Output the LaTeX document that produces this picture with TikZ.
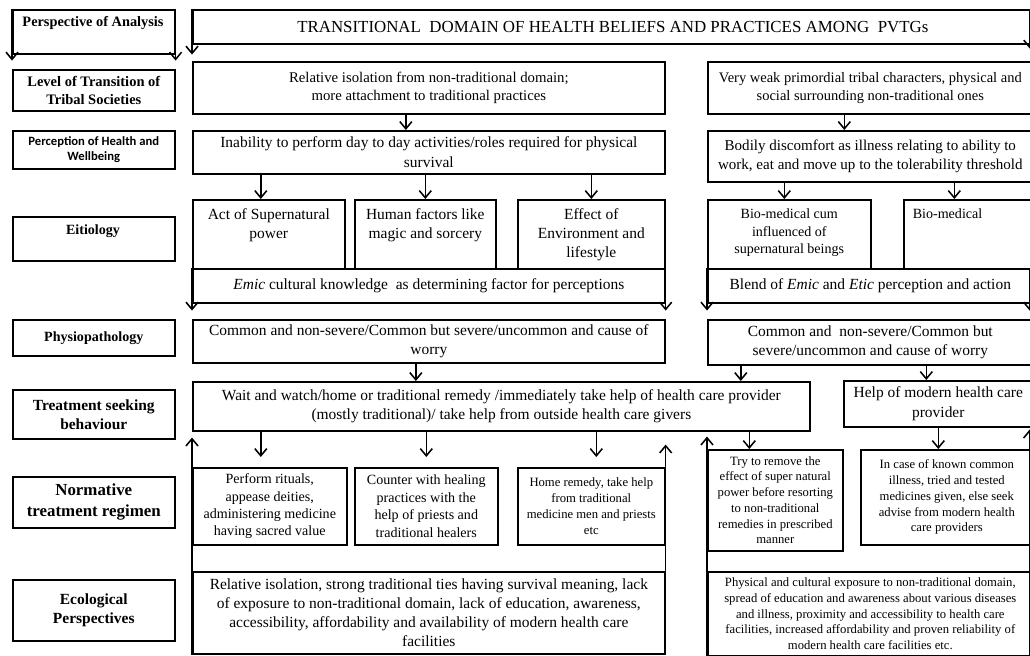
\documentclass[tikz,border=0pt]{standalone}
\usepackage{fontspec}
\setmainfont{Liberation Serif}
\newfontfamily\carlito{Carlito}
\usetikzlibrary{arrows.meta}

\begin{document}
\begin{tikzpicture}[x=0.025cm, y=-0.025cm, line width=1.1pt,
    >={Straight Barb[length=1.8mm, width=3mm]},
    cx/.style={draw, rectangle, anchor=north west, align=center, inner sep=1pt,
      font=\fontsize{11}{13.8}\selectfont},
    pq/.style={cx, font=\fontsize{9}{11.2}\selectfont},
    rot/.style={cx, minimum width=4.05cm, font=\bfseries\fontsize{10}{12.8}\selectfont},
    txt/.style={inner sep=0pt, align=center, font=\fontsize{11}{13.5}\selectfont}]
    \clip (0,0) rectangle (1030,656);

    % Coluna da esquerda
    \node[rot, minimum height=1.1cm] (persp) at (12,9) {};
    \node[txt, anchor=base, font=\bfseries\fontsize{10.2}{12}\selectfont] (perspt) at (93,27) {Perspective of Analysis};
    \node[rot, minimum height=1.025cm, font=\bfseries\fontsize{10.3}{12.8}\selectfont] (level) at (12,69) {Level of Transition of\\Tribal Societies};
    \node[rot, minimum height=0.95cm, font=\carlito\bfseries\fontsize{9}{10.5}\selectfont] (percep) at (12,130) {Perception of Health and\\Wellbeing};
    \node[rot, minimum height=1.1cm] (etio) at (12,216) {};
    \node[txt, anchor=base, font=\bfseries\fontsize{10}{12}\selectfont] (etiot) at (93,234) {Eitiology};
    \node[rot, minimum height=0.9cm] (physio) at (12,319) {Physiopathology};
    \node[rot, minimum height=1.225cm, font=\bfseries\fontsize{11}{13.5}\selectfont] (treat) at (12,389) {Treatment seeking\\behaviour};
    \node[rot, minimum height=1.275cm, font=\bfseries\fontsize{12}{15}\selectfont] (norm) at (12,476) {Normative\\treatment regimen};
    \node[rot, minimum height=1.525cm, font=\bfseries\fontsize{11}{13.5}\selectfont] (eco) at (12,579) {Ecological\\Perspectives};

    % Titulo
    \node[cx, minimum width=21cm, minimum height=0.85cm, font=\fontsize{12}{14}\selectfont] (title) at (192,9) {TRANSITIONAL\ \ DOMAIN OF HEALTH BELIEFS AND PRACTICES AMONG\ \ PVTGs};

    % Nivel de transicao e percepcao
    \node[cx, minimum width=11.8cm, minimum height=1.3cm, font=\fontsize{10.5}{13}\selectfont] (levL) at (192,61) {Relative isolation from non-traditional domain;\\more attachment to traditional practices};
    \node[cx, minimum width=8.125cm, minimum height=1.3cm, font=\fontsize{10.3}{13}\selectfont] (levR) at (707,61) {Very weak primordial tribal characters, physical and\\social surrounding non-traditional ones};
    \node[cx, minimum width=11.8cm, minimum height=1.075cm] (perL) at (192,130) {Inability to perform day to day activities/roles required for physical\\survival};
    \node[cx, minimum width=8.125cm, minimum height=1.275cm, font=\fontsize{10.7}{13.5}\selectfont] (perR) at (707,130) {Bodily discomfort as illness relating to ability to\\work, eat and move up to the tolerability threshold};

    % Etiologia
    \node[cx, minimum width=3.8cm, minimum height=1.725cm] (act) at (192,199) {};
    \node[cx, minimum width=3.525cm, minimum height=1.725cm] (human) at (354,199) {};
    \node[cx, minimum width=3.675cm, minimum height=1.725cm] (env) at (517,199) {};
    \node[cx, minimum width=4.075cm, minimum height=1.725cm] (biocum) at (707,199) {};
    \node[cx, minimum width=3.225cm, minimum height=1.725cm] (bio) at (903,199) {};
    \node[txt, anchor=north] (actt) at ([yshift=-0.225cm]act.north) {Act of Supernatural\\power};
    \node[txt, anchor=north] (humant) at ([yshift=-0.225cm]human.north) {Human factors like\\magic and sorcery};
    \node[txt, anchor=north] (envt) at ([yshift=-0.225cm]env.north) {Effect of\\Environment and\\lifestyle};
    \node[txt, anchor=north, font=\fontsize{10}{12.5}\selectfont] (biocumt) at ([yshift=-0.225cm]biocum.north) {Bio-medical cum\\influenced of\\supernatural beings};
    \node[txt, anchor=north west, font=\fontsize{10}{12.5}\selectfont] (biot) at ([xshift=0.225cm, yshift=-0.225cm]bio.north west) {Bio-medical};
    \node[cx, minimum width=11.8cm, minimum height=0.85cm] (emic) at (192,268) {\textit{Emic} cultural knowledge\ \ as determining factor for perceptions};
    \node[cx, minimum width=8.125cm, minimum height=0.85cm] (blend) at (707,268) {Blend of \textit{Emic} and \textit{Etic} perception and action};

    % Fisiopatologia e procura de tratamento
    \node[cx, minimum width=11.8cm, minimum height=1.075cm] (phyL) at (192,319) {Common and non-severe/Common but severe/uncommon and cause of\\worry};
    \node[cx, minimum width=8.125cm, minimum height=1.125cm] (phyR) at (707,319) {Common and\ \ non-severe/Common but\\severe/uncommon and cause of worry};
    \node[cx, minimum width=15.425cm, minimum height=1.225cm] (waitb) at (192,381) {Wait and watch/home or traditional remedy /immediately take help of health care provider\\(mostly traditional)/ take help from outside health care givers};
    \node[cx, minimum width=4.725cm, minimum height=1.15cm] (help) at (843,380) {Help of modern health care\\provider};

    % Regime normativo
    \node[cx, minimum width=3.85cm, minimum height=1.925cm, font=\fontsize{10}{12.4}\selectfont] (rituals) at (192,467) {Perform rituals,\\appease deities,\\administering medicine\\having sacred value};
    \node[cx, minimum width=3.575cm, minimum height=1.925cm, font=\fontsize{10}{12.4}\selectfont] (counter) at (354,467) {Counter with healing\\practices with the\\help of priests and\\traditional healers};
    \node[pq, minimum width=3.675cm, minimum height=1.925cm] (home) at (517,467) {Home remedy, take help\\from traditional\\medicine men and priests\\etc};
    \node[pq, minimum width=3.375cm, minimum height=2.525cm] (try) at (707,449) {Try to remove the\\effect of super natural\\power before resorting\\to non-traditional\\remedies in prescribed\\manner};
    \node[pq, minimum width=4.3cm, minimum height=2.375cm] (incase) at (860,449) {In case of known common\\illness, tried and tested\\medicines given, else seek\\advise from modern health\\care providers};

    % Perspectiva ecologica
    \node[cx, minimum width=11.8cm, minimum height=2.05cm, font=\fontsize{11}{13.5}\selectfont] (ecoL) at (192,571) {Relative isolation, strong traditional ties having survival meaning, lack\\of exposure to non-traditional domain, lack of education, awareness,\\accessibility, affordability and availability of modern health care\\facilities};
    \node[pq, minimum width=8.125cm, minimum height=2.1cm] (ecoR) at (707,571) {Physical and cultural exposure to non-traditional domain,\\spread of education and awareness about various diseases\\and illness, proximity and accessibility to health care\\facilities, increased affordability and proven reliability of\\modern health care facilities etc.};

    % Setas nos lados das caixas
    \draw[->] (persp.north west) -- ([yshift=-0.15cm]persp.south west);
    \draw[->] (persp.north east) -- ([yshift=-0.15cm]persp.south east);
    \draw[->] (title.north west) -- ([yshift=-0.25cm]title.south west);
    \draw[->] ([xshift=-0.1cm]title.north east) -- ([xshift=-0.1cm, yshift=-0.1cm]title.south east);
    \draw[->] (emic.north west) -- ([yshift=-0.175cm]emic.south west);
    \draw[->] (emic.north east) -- ([yshift=-0.175cm]emic.south east);
    \draw[->] (blend.north west) -- ([yshift=-0.175cm]blend.south west);
    \draw[->] ([xshift=-0.1cm]blend.north east) -- ([xshift=-0.1cm, yshift=-0.175cm]blend.south east);

    % Setas entre as linhas
    \draw[->] ([xshift=-0.575cm]levL.south) -- ([xshift=-0.575cm]perL.north);
    \draw[->] ([xshift=-0.65cm]levR.south) -- ([xshift=-0.65cm]perR.north);
    \draw[->] ([xshift=-0.2cm]act.north |- perL.south) -- ([xshift=-0.2cm]act.north);
    \draw[->] (human.north |- perL.south) -- (human.north);
    \draw[->] (env.north |- perL.south) -- (env.north);
    \draw[->] ([xshift=-0.125cm]biocum.north |- perR.south) -- ([xshift=-0.125cm]biocum.north);
    \draw[->] ([xshift=-0.35cm]bio.north |- perR.south) -- ([xshift=-0.35cm]bio.north);
    \draw[->] ([xshift=-0.325cm]phyL.south) -- ([xshift=-0.325cm]phyL.south |- waitb.north);
    \draw[->] ([xshift=-3.2375cm]phyR.south) -- ([xshift=-3.2375cm]phyR.south |- waitb.north);
    \draw[->] ([xshift=-0.3cm]help.north |- phyR.south) -- ([xshift=-0.3cm]help.north);

    % Setas para o regime normativo
    \draw[->] ([xshift=-0.225cm]rituals.north |- waitb.south) -- ([xshift=-0.225cm, yshift=0.25cm]rituals.north);
    \draw[->] (counter.north |- waitb.south) -- ([yshift=0.25cm]counter.north);
    \draw[->] ([xshift=0.125cm]home.north |- waitb.south) -- ([xshift=0.125cm, yshift=0.25cm]home.north);
    \draw[->] ([xshift=-0.65cm]try.north |- waitb.south) -- ([xshift=-0.65cm]try.north);
    \draw[->] (help.south) -- (help.south |- incase.north);

    % Setas para cima
    \draw[->] (ecoL.south west) -- ([yshift=-0.15cm]waitb.south west);
    \draw[->] (ecoL.south east) -- ([yshift=-0.325cm]ecoL.south east |- waitb.south);
    \draw[->] (ecoR.south west) -- ([yshift=-0.125cm]ecoR.south west |- waitb.south);
    \draw[->] ([xshift=-0.1cm]ecoR.south east) -- ([xshift=-0.1cm, yshift=-0.05cm]ecoR.south east |- help.south);
\end{tikzpicture}
\end{document}
